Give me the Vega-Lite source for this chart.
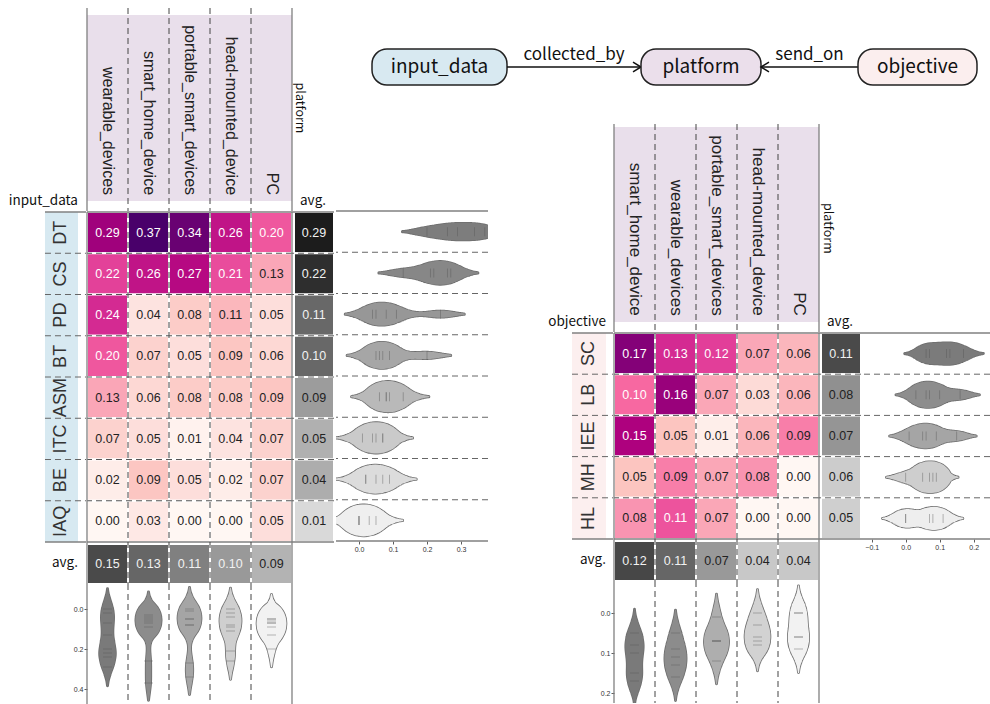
{
"$schema": "https://vega.github.io/schema/vega-lite/v6.json",
"padding": {"left": 5, "top": 7, "right": 0, "bottom": 0},
"background": "#ffffff",
"config": {"view": {"stroke": null}, "axis": {"labelFont": "Liberation Sans"}, "text": {"font": "Liberation Sans"}},
"datasets": {
"L": [
{"r":"DT","c":"wearable_devices","v":0.29},{"r":"DT","c":"smart_home_device","v":0.37},{"r":"DT","c":"portable_smart_devices","v":0.34},{"r":"DT","c":"head-mounted_device","v":0.26},{"r":"DT","c":"PC","v":0.20},
{"r":"CS","c":"wearable_devices","v":0.22},{"r":"CS","c":"smart_home_device","v":0.26},{"r":"CS","c":"portable_smart_devices","v":0.27},{"r":"CS","c":"head-mounted_device","v":0.21},{"r":"CS","c":"PC","v":0.13},
{"r":"PD","c":"wearable_devices","v":0.24},{"r":"PD","c":"smart_home_device","v":0.04},{"r":"PD","c":"portable_smart_devices","v":0.08},{"r":"PD","c":"head-mounted_device","v":0.11},{"r":"PD","c":"PC","v":0.05},
{"r":"BT","c":"wearable_devices","v":0.20},{"r":"BT","c":"smart_home_device","v":0.07},{"r":"BT","c":"portable_smart_devices","v":0.05},{"r":"BT","c":"head-mounted_device","v":0.09},{"r":"BT","c":"PC","v":0.06},
{"r":"ASM","c":"wearable_devices","v":0.13},{"r":"ASM","c":"smart_home_device","v":0.06},{"r":"ASM","c":"portable_smart_devices","v":0.08},{"r":"ASM","c":"head-mounted_device","v":0.08},{"r":"ASM","c":"PC","v":0.09},
{"r":"ITC","c":"wearable_devices","v":0.07},{"r":"ITC","c":"smart_home_device","v":0.05},{"r":"ITC","c":"portable_smart_devices","v":0.01},{"r":"ITC","c":"head-mounted_device","v":0.04},{"r":"ITC","c":"PC","v":0.07},
{"r":"BE","c":"wearable_devices","v":0.02},{"r":"BE","c":"smart_home_device","v":0.09},{"r":"BE","c":"portable_smart_devices","v":0.05},{"r":"BE","c":"head-mounted_device","v":0.02},{"r":"BE","c":"PC","v":0.07},
{"r":"IAQ","c":"wearable_devices","v":0.00},{"r":"IAQ","c":"smart_home_device","v":0.03},{"r":"IAQ","c":"portable_smart_devices","v":0.00},{"r":"IAQ","c":"head-mounted_device","v":0.00},{"r":"IAQ","c":"PC","v":0.05}
],
"Lr": [{"r":"DT","v":0.29},{"r":"CS","v":0.22},{"r":"PD","v":0.11},{"r":"BT","v":0.10},{"r":"ASM","v":0.09},{"r":"ITC","v":0.05},{"r":"BE","v":0.04},{"r":"IAQ","v":0.01}],
"Lc": [{"c":"wearable_devices","v":0.15},{"c":"smart_home_device","v":0.13},{"c":"portable_smart_devices","v":0.11},{"c":"head-mounted_device","v":0.10},{"c":"PC","v":0.09}],
"R": [
{"r":"SC","c":"smart_home_device","v":0.17},{"r":"SC","c":"wearable_devices","v":0.13},{"r":"SC","c":"portable_smart_devices","v":0.12},{"r":"SC","c":"head-mounted_device","v":0.07},{"r":"SC","c":"PC","v":0.06},
{"r":"LB","c":"smart_home_device","v":0.10},{"r":"LB","c":"wearable_devices","v":0.16},{"r":"LB","c":"portable_smart_devices","v":0.07},{"r":"LB","c":"head-mounted_device","v":0.03},{"r":"LB","c":"PC","v":0.06},
{"r":"IEE","c":"smart_home_device","v":0.15},{"r":"IEE","c":"wearable_devices","v":0.05},{"r":"IEE","c":"portable_smart_devices","v":0.01},{"r":"IEE","c":"head-mounted_device","v":0.06},{"r":"IEE","c":"PC","v":0.09},
{"r":"MH","c":"smart_home_device","v":0.05},{"r":"MH","c":"wearable_devices","v":0.09},{"r":"MH","c":"portable_smart_devices","v":0.07},{"r":"MH","c":"head-mounted_device","v":0.08},{"r":"MH","c":"PC","v":0.00},
{"r":"HL","c":"smart_home_device","v":0.08},{"r":"HL","c":"wearable_devices","v":0.11},{"r":"HL","c":"portable_smart_devices","v":0.07},{"r":"HL","c":"head-mounted_device","v":0.00},{"r":"HL","c":"PC","v":0.00}
],
"Rr": [{"r":"SC","v":0.11},{"r":"LB","v":0.08},{"r":"IEE","v":0.07},{"r":"MH","v":0.06},{"r":"HL","v":0.05}],
"Rc": [{"c":"smart_home_device","v":0.12},{"c":"wearable_devices","v":0.11},{"c":"portable_smart_devices","v":0.07},{"c":"head-mounted_device","v":0.04},{"c":"PC","v":0.04}]
},
"spacing": 0,
"hconcat": [
{
"columns": 3, "spacing": 0, "bounds": "flush", "align": "each",
"concat": [
{"width": 82, "height": 204, "data": {"values": [{"t": "input_data"}]},
 "mark": {"type": "text", "align": "right", "baseline": "middle", "font": "Noto Sans CJK KR", "fontSize": 13.5, "color": "#111111"},
 "encoding": {
  "x": {"datum": "lab", "type": "nominal", "bandPosition": 1, "scale": {"type": "band", "domain": ["lab"], "paddingInner": 0, "paddingOuter": 0.742, "align": 0.816}, "axis": null},
  "y": {"datum": "hdr", "type": "nominal", "bandPosition": 1, "scale": {"type": "band", "domain": ["hdr"], "paddingInner": 0, "paddingOuter": 0.04839, "align": 0.3889}, "axis": null},
  "text": {"field": "t"}}},
{"width": 205, "height": 204, "layer": [
 {"data": {"values": [{}]}, "mark": {"type": "rect", "color": "#e9dfeb"}, "encoding": {"y": {"datum": "hdr", "type": "nominal", "scale": {"type": "band", "domain": ["hdr"], "paddingInner": 0, "paddingOuter": 0.04839, "align": 0.3889}, "axis": null}}},
 {"data": {"name": "Lc"}, "mark": {"type": "text", "angle": 90, "align": "right", "baseline": "middle", "font": "Liberation Sans", "fontSize": 16, "color": "#222222"},
  "encoding": {"x": {"field": "c", "type": "nominal", "scale": {"type": "band", "domain": ["wearable_devices","smart_home_device","portable_smart_devices","head-mounted_device","PC"], "paddingInner": 0, "paddingOuter": 0}, "axis": {"orient": "bottom", "offset": -9, "labels": false, "domain": false, "grid": false, "ticks": true, "tickSize": 7, "tickColor": "#111111", "tickWidth": 1.5, "title": null}},
   "y": {"datum": "hdr", "type": "nominal", "bandPosition": 0.968, "scale": {"type": "band", "domain": ["hdr"], "paddingInner": 0, "paddingOuter": 0.04839, "align": 0.3889}, "axis": null},
   "text": {"field": "c"}}},
 {"data": {"name": "Lc"}, "transform": [{"filter": "datum.c !== 'wearable_devices'"}], "mark": {"type": "rule", "color": "#444444", "strokeWidth": 1, "strokeDash": [6, 4]}, "encoding": {"x": {"field": "c", "type": "nominal", "bandPosition": 0, "scale": {"type": "band", "domain": ["wearable_devices","smart_home_device","portable_smart_devices","head-mounted_device","PC"], "paddingInner": 0, "paddingOuter": 0}, "axis": null}}},
 {"data": {"values": [{}]}, "mark": {"type": "rule", "color": "#808080", "strokeWidth": 1.3}, "encoding": {"x": {"datum": "wearable_devices", "type": "nominal", "bandPosition": 0, "axis": null}}},
 {"data": {"values": [{}]}, "mark": {"type": "rule", "color": "#808080", "strokeWidth": 1.3}, "encoding": {"x": {"datum": "PC", "type": "nominal", "bandPosition": 1, "axis": null}}}
]},
{"width": 42, "height": 204, "data": {"values": [{}]}, "layer": [
 {"mark": {"type": "text", "angle": 90, "align": "center", "baseline": "middle", "font": "Noto Sans CJK KR", "fontSize": 12.5, "color": "#111111", "text": "platform"},
  "encoding": {"x": {"datum": "avg.", "type": "nominal", "bandPosition": 0.2, "scale": {"type": "band", "domain": ["avg."], "paddingInner": 0, "paddingOuter": 0}, "axis": null},
   "y": {"datum": "hdr", "type": "nominal", "bandPosition": 0.5, "scale": {"type": "band", "domain": ["hdr"], "paddingInner": 0, "paddingOuter": 0.04839, "align": 0.3889}, "axis": null}}},
 {"mark": {"type": "text", "align": "center", "baseline": "middle", "font": "Noto Sans CJK KR", "fontSize": 13.5, "color": "#111111", "text": "avg."},
  "encoding": {"x": {"datum": "avg.", "type": "nominal", "bandPosition": 0.5, "axis": null},
   "y": {"datum": "hdr", "type": "nominal", "bandPosition": 1, "axis": null}}}
]},
{"width": 82, "height": 330, "layer": [
 {"data": {"values": [{}]}, "mark": {"type": "rect", "color": "#d7e9f1"}, "encoding": {"x": {"datum": "lab", "type": "nominal", "scale": {"type": "band", "domain": ["lab"], "paddingInner": 0, "paddingOuter": 0.742, "align": 0.816}, "axis": null}}},
 {"data": {"name": "Lr"}, "mark": {"type": "text", "angle": -90, "align": "center", "baseline": "middle", "font": "Liberation Sans Narrow, Liberation Sans", "fontSize": 18, "color": "#333333"},
  "encoding": {"x": {"datum": "lab", "type": "nominal", "axis": null}, "y": {"field": "r", "type": "nominal", "scale": {"type": "band", "domain": ["DT","CS","PD","BT","ASM","ITC","BE","IAQ"], "paddingInner": 0, "paddingOuter": 0}, "axis": null}, "text": {"field": "r"}}},
 {"data": {"name": "Lr"}, "transform": [{"filter": "datum.r !== 'DT'"}], "mark": {"type": "rule", "color": "#666666", "strokeWidth": 1, "strokeDash": [6, 4]},
  "encoding": {"x": {"datum": "lab", "type": "nominal", "bandPosition": 0, "axis": null}, "x2": {"value": "width"}, "y": {"field": "r", "type": "nominal", "bandPosition": 0, "axis": null}}},
 {"data": {"values": [{}]}, "mark": {"type": "rule", "color": "#808080", "strokeWidth": 1.3},
  "encoding": {"x": {"datum": "lab", "type": "nominal", "bandPosition": 0, "axis": null}, "x2": {"value": "width"}, "y": {"datum": "DT", "type": "nominal", "bandPosition": 0, "axis": null}}},
 {"data": {"values": [{}]}, "mark": {"type": "rule", "color": "#808080", "strokeWidth": 1.3},
  "encoding": {"x": {"datum": "lab", "type": "nominal", "bandPosition": 0, "axis": null}, "x2": {"value": "width"}, "y": {"datum": "IAQ", "type": "nominal", "bandPosition": 1, "axis": null}}}
]},
{"width": 205, "height": 330, "layer": [
 {"data": {"name": "L"}, "mark": {"type": "rect", "stroke": "#ffffff", "strokeWidth": 2},
  "encoding": {"x": {"field": "c", "type": "nominal", "scale": {"type": "band", "domain": ["wearable_devices","smart_home_device","portable_smart_devices","head-mounted_device","PC"], "paddingInner": 0, "paddingOuter": 0}, "axis": null},
   "y": {"field": "r", "type": "nominal", "scale": {"type": "band", "domain": ["DT","CS","PD","BT","ASM","ITC","BE","IAQ"], "paddingInner": 0, "paddingOuter": 0}, "axis": null},
   "color": {"field": "v", "type": "quantitative", "scale": {"domain": [0, 0.04625, 0.0925, 0.13875, 0.185, 0.23125, 0.2775, 0.32375, 0.37], "range": ["#fff7f3","#fde0dd","#fcc5c0","#fa9fb5","#f768a1","#dd3497","#ae017e","#7a0177","#49006a"], "interpolate": "rgb"}, "legend": null}}},
 {"data": {"name": "L"}, "mark": {"type": "text", "font": "Liberation Sans", "fontSize": 12.5},
  "encoding": {"x": {"field": "c", "type": "nominal", "axis": null}, "y": {"field": "r", "type": "nominal", "axis": null},
   "text": {"field": "v", "type": "quantitative", "format": ".2f"},
   "color": {"condition": {"test": "datum.v >= 0.195", "value": "#ffffff"}, "value": "#222222"}}},
 {"data": {"name": "Lc"}, "transform": [{"filter": "datum.c !== 'wearable_devices'"}], "mark": {"type": "rule", "color": "#444444", "strokeWidth": 1, "strokeDash": [6, 4]}, "encoding": {"x": {"field": "c", "type": "nominal", "bandPosition": 0, "axis": null}}},
 {"data": {"name": "Lr"}, "transform": [{"filter": "datum.r !== 'DT'"}], "mark": {"type": "rule", "color": "#555555", "strokeWidth": 1, "strokeDash": [6, 4]}, "encoding": {"y": {"field": "r", "type": "nominal", "bandPosition": 0, "axis": null}}},
 {"data": {"values": [{}]}, "mark": {"type": "rule", "color": "#808080", "strokeWidth": 1.3}, "encoding": {"x": {"datum": "wearable_devices", "type": "nominal", "bandPosition": 0, "axis": null}}},
 {"data": {"values": [{}]}, "mark": {"type": "rule", "color": "#808080", "strokeWidth": 1.3}, "encoding": {"x": {"datum": "PC", "type": "nominal", "bandPosition": 1, "axis": null}}},
 {"data": {"values": [{}]}, "mark": {"type": "rule", "color": "#808080", "strokeWidth": 1.3}, "encoding": {"y": {"datum": "DT", "type": "nominal", "bandPosition": 0, "axis": null}}},
 {"data": {"values": [{}]}, "mark": {"type": "rule", "color": "#808080", "strokeWidth": 1.3}, "encoding": {"y": {"datum": "IAQ", "type": "nominal", "bandPosition": 1, "axis": null}}}
]},
{"width": 42, "height": 330, "layer": [
 {"data": {"name": "Lr"}, "mark": {"type": "rect", "stroke": "#ffffff", "strokeWidth": 2},
  "encoding": {"x": {"datum": "avg.", "type": "nominal", "scale": {"type": "band", "domain": ["avg."], "paddingInner": 0, "paddingOuter": 0.025, "align": 1}, "axis": null},
   "y": {"field": "r", "type": "nominal", "scale": {"type": "band", "domain": ["DT","CS","PD","BT","ASM","ITC","BE","IAQ"], "paddingInner": 0, "paddingOuter": 0}, "axis": null},
   "color": {"field": "v", "type": "quantitative", "scale": {"domain": [0.01, 0.04, 0.05, 0.09, 0.10, 0.11, 0.22, 0.29], "range": ["#d9d9d9","#adadad","#b0b0b0","#9c9c9c","#686868","#686868","#2e2e2e","#1c1c1c"]}, "legend": null}}},
 {"data": {"name": "Lr"}, "mark": {"type": "text", "font": "Liberation Sans", "fontSize": 12.5},
  "encoding": {"x": {"datum": "avg.", "type": "nominal", "axis": null}, "y": {"field": "r", "type": "nominal", "axis": null},
   "text": {"field": "v", "type": "quantitative", "format": ".2f"},
   "color": {"condition": {"test": "datum.v >= 0.095", "value": "#f2f2f2"}, "value": "#222222"}}},
 {"data": {"name": "Lr"}, "transform": [{"filter": "datum.r !== 'DT'"}], "mark": {"type": "rule", "color": "#666666", "strokeWidth": 1, "strokeDash": [6, 4]}, "encoding": {"y": {"field": "r", "type": "nominal", "bandPosition": 0, "axis": null}}},
 {"data": {"values": [{}]}, "mark": {"type": "rule", "color": "#808080", "strokeWidth": 1.3}, "encoding": {"y": {"datum": "DT", "type": "nominal", "bandPosition": 0, "axis": null}}},
 {"data": {"values": [{}]}, "mark": {"type": "rule", "color": "#808080", "strokeWidth": 1.3}, "encoding": {"y": {"datum": "IAQ", "type": "nominal", "bandPosition": 1, "axis": null}}}
]},
{"width": 82, "height": 42, "data": {"values": [{"t": "avg."}]},
 "mark": {"type": "text", "align": "right", "baseline": "middle", "font": "Noto Sans CJK KR", "fontSize": 13.5, "color": "#111111"},
 "encoding": {"x": {"datum": "lab", "type": "nominal", "bandPosition": 1, "scale": {"type": "band", "domain": ["lab"], "paddingInner": 0, "paddingOuter": 0.742, "align": 0.816}, "axis": null}, "text": {"field": "t"}}},
{"width": 205, "height": 42, "layer": [
 {"data": {"name": "Lc"}, "mark": {"type": "rect", "stroke": "#ffffff", "strokeWidth": 2},
  "encoding": {"x": {"field": "c", "type": "nominal", "scale": {"type": "band", "domain": ["wearable_devices","smart_home_device","portable_smart_devices","head-mounted_device","PC"], "paddingInner": 0, "paddingOuter": 0}, "axis": null},
   "y": {"datum": "avg.", "type": "nominal", "scale": {"type": "band", "domain": ["avg."], "paddingInner": 0, "paddingOuter": 0.025, "align": 1}, "axis": null},
   "color": {"field": "v", "type": "quantitative", "scale": {"domain": [0.09, 0.10, 0.11, 0.13, 0.15], "range": ["#b3b3b3","#999999","#808080","#666666","#4a4a4a"]}, "legend": null}}},
 {"data": {"name": "Lc"}, "mark": {"type": "text", "font": "Liberation Sans", "fontSize": 12.5},
  "encoding": {"x": {"field": "c", "type": "nominal", "axis": null}, "y": {"datum": "avg.", "type": "nominal", "axis": null},
   "text": {"field": "v", "type": "quantitative", "format": ".2f"},
   "color": {"condition": {"test": "datum.v >= 0.095", "value": "#f2f2f2"}, "value": "#222222"}}},
 {"data": {"name": "Lc"}, "transform": [{"filter": "datum.c !== 'wearable_devices'"}], "mark": {"type": "rule", "color": "#444444", "strokeWidth": 1, "strokeDash": [6, 4]}, "encoding": {"x": {"field": "c", "type": "nominal", "bandPosition": 0, "axis": null}}},
 {"data": {"values": [{}]}, "mark": {"type": "rule", "color": "#808080", "strokeWidth": 1.3}, "encoding": {"x": {"datum": "wearable_devices", "type": "nominal", "bandPosition": 0, "axis": null}}},
 {"data": {"values": [{}]}, "mark": {"type": "rule", "color": "#808080", "strokeWidth": 1.3}, "encoding": {"x": {"datum": "PC", "type": "nominal", "bandPosition": 1, "axis": null}}}
]},
{"width": 42, "height": 42, "data": {"values": [{}]}, "mark": {"type": "rect", "opacity": 0}, "encoding": {}},
{"width": 82, "height": 120, "data": {"values": [{}]}, "mark": {"type": "rect", "opacity": 0}, "encoding": {}},
{"width": 205, "height": 120, "data": {"name": "L"}, "resolve": {"scale": {"size": "independent"}}, "layer": [
 {"transform": [{"density": "v", "groupby": ["c"], "bandwidth": 0.055, "extent": [-0.25, 0.7], "steps": 300}, {"filter": "datum.density > 0.25"}],
  "mark": {"type": "trail", "color": "#6e6e6e", "clip": true},
  "encoding": {"x": {"field": "c", "type": "nominal", "scale": {"type": "band", "domain": ["wearable_devices","smart_home_device","portable_smart_devices","head-mounted_device","PC"], "paddingInner": 0, "paddingOuter": 0}, "axis": null},
   "y": {"field": "value", "type": "quantitative", "scale": {"domain": [-0.125, 0.475], "reverse": true, "nice": false, "zero": false},
    "axis": {"orient": "left", "values": [0, 0.2, 0.4], "format": ".1f", "labelFontSize": 7, "labelColor": "#333333", "tickSize": 3, "tickColor": "#333333", "tickWidth": 0.8, "domain": false, "grid": false, "title": null, "labelPadding": 1}},
   "size": {"field": "density", "type": "quantitative", "scale": {"range": [1.6, 31.6], "zero": true}, "legend": null},
   "detail": {"field": "c", "type": "nominal"},
   "order": {"field": "value", "type": "quantitative"}}},
 {"transform": [{"density": "v", "groupby": ["c"], "bandwidth": 0.055, "extent": [-0.25, 0.7], "steps": 300}, {"filter": "datum.density > 0.25"}],
  "mark": {"type": "trail", "clip": true},
  "encoding": {"x": {"field": "c", "type": "nominal", "axis": null},
   "y": {"field": "value", "type": "quantitative",
    "axis": {"orient": "left", "values": [0, 0.2, 0.4], "format": ".1f", "labelFontSize": 7, "labelColor": "#333333", "tickSize": 3, "tickColor": "#333333", "tickWidth": 0.8, "domain": false, "grid": false, "title": null, "labelPadding": 1}},
   "size": {"field": "density", "type": "quantitative", "scale": {"range": [0, 30], "zero": true}, "legend": null},
   "color": {"field": "c", "type": "nominal", "scale": {"domain": ["wearable_devices","smart_home_device","portable_smart_devices","head-mounted_device","PC"], "range": ["#7a7a7a","#8c8c8c","#a5a5a5","#cfcfcf","#f2f2f2"]}, "legend": null},
   "order": {"field": "value", "type": "quantitative"}}},
 {"mark": {"type": "tick", "orient": "horizontal", "size": 9, "thickness": 0.8, "color": "#555555", "opacity": 0.5},
  "encoding": {"x": {"field": "c", "type": "nominal", "axis": null},
   "y": {"field": "v", "type": "quantitative",
    "axis": {"orient": "left", "values": [0, 0.2, 0.4], "format": ".1f", "labelFontSize": 7, "labelColor": "#333333", "tickSize": 3, "tickColor": "#333333", "tickWidth": 0.8, "domain": false, "grid": false, "title": null, "labelPadding": 1}}}},
 {"data": {"name": "Lc"}, "transform": [{"filter": "datum.c !== 'wearable_devices'"}], "mark": {"type": "rule", "color": "#444444", "strokeWidth": 1, "strokeDash": [6, 4]}, "encoding": {"x": {"field": "c", "type": "nominal", "bandPosition": 0, "axis": null}}},
 {"data": {"values": [{}]}, "mark": {"type": "rule", "color": "#808080", "strokeWidth": 1.3}, "encoding": {"x": {"datum": "wearable_devices", "type": "nominal", "bandPosition": 0, "axis": null}}},
 {"data": {"values": [{}]}, "mark": {"type": "rule", "color": "#808080", "strokeWidth": 1.3}, "encoding": {"x": {"datum": "PC", "type": "nominal", "bandPosition": 1, "axis": null}}}
]},
{"width": 42, "height": 120, "data": {"values": [{}]}, "mark": {"type": "rect", "opacity": 0}, "encoding": {}}
]
},
{
"spacing": 37, "bounds": "full",
"vconcat": [
{"width": 10, "height": 1, "data": {"values": [{}]}, "mark": {"type": "rect", "opacity": 0}, "encoding": {}},
{"spacing": 0, "bounds": "flush", "hconcat": [
 {"width": 36, "height": 36, "data": {"values": [{}]}, "mark": {"type": "rect", "opacity": 0}, "encoding": {}},
 {"width": 135, "height": 36, "data": {"values": [{"t": "input_data"}]}, "layer": [
  {"mark": {"type": "rect", "color": "#d8e9f1", "stroke": "#222222", "strokeWidth": 1.5, "cornerRadius": 15},
   "encoding": {"x": {"datum": "n", "type": "nominal", "scale": {"type": "band", "paddingInner": 0, "paddingOuter": 0}, "axis": null}, "y": {"datum": "n", "type": "nominal", "scale": {"type": "band", "paddingInner": 0, "paddingOuter": 0}, "axis": null}}},
  {"mark": {"type": "text", "font": "Noto Sans CJK KR", "fontSize": 19, "color": "#111111"}, "encoding": {"text": {"field": "t"}}}
 ]},
 {"width": 134, "height": 36, "layer": [
  {"data": {"values": [{}]}, "mark": {"type": "rule", "color": "#111111", "strokeWidth": 1.5},
   "encoding": {"y": {"datum": "line", "type": "nominal", "bandPosition": 0, "scale": {"type": "band", "domain": ["label", "line"], "paddingInner": 0, "paddingOuter": 0}, "axis": null}}},
  {"data": {"values": [{}]}, "mark": {"type": "point", "shape": "M-2,-1.2L0,0L-2,1.2", "size": 64, "filled": false, "color": "#111111", "strokeWidth": 1.5, "opacity": 1},
   "encoding": {"x": {"datum": "e", "type": "nominal", "bandPosition": 1, "scale": {"type": "band", "paddingInner": 0, "paddingOuter": 0}, "axis": null}, "y": {"datum": "line", "type": "nominal", "bandPosition": 0, "axis": null}}},
  {"data": {"values": [{"t": "collected_by"}]}, "mark": {"type": "text", "font": "Noto Sans CJK KR", "fontSize": 17, "color": "#111111", "baseline": "middle"},
   "encoding": {"y": {"datum": "label", "type": "nominal", "bandPosition": 0.35, "axis": null}, "text": {"field": "t"}}}
 ]},
 {"width": 120, "height": 36, "data": {"values": [{"t": "platform"}]}, "layer": [
  {"mark": {"type": "rect", "color": "#ebdfeb", "stroke": "#222222", "strokeWidth": 1.5, "cornerRadius": 15},
   "encoding": {"x": {"datum": "n", "type": "nominal", "scale": {"type": "band", "paddingInner": 0, "paddingOuter": 0}, "axis": null}, "y": {"datum": "n", "type": "nominal", "scale": {"type": "band", "paddingInner": 0, "paddingOuter": 0}, "axis": null}}},
  {"mark": {"type": "text", "font": "Noto Sans CJK KR", "fontSize": 19, "color": "#111111"}, "encoding": {"text": {"field": "t"}}}
 ]},
 {"width": 97, "height": 36, "layer": [
  {"data": {"values": [{}]}, "mark": {"type": "rule", "color": "#111111", "strokeWidth": 1.5},
   "encoding": {"y": {"datum": "line", "type": "nominal", "bandPosition": 0, "scale": {"type": "band", "domain": ["label", "line"], "paddingInner": 0, "paddingOuter": 0}, "axis": null}}},
  {"data": {"values": [{}]}, "mark": {"type": "point", "shape": "M2,-1.2L0,0L2,1.2", "size": 64, "filled": false, "color": "#111111", "strokeWidth": 1.5, "opacity": 1},
   "encoding": {"x": {"datum": "e", "type": "nominal", "bandPosition": 0, "scale": {"type": "band", "paddingInner": 0, "paddingOuter": 0}, "axis": null}, "y": {"datum": "line", "type": "nominal", "bandPosition": 0, "axis": null}}},
  {"data": {"values": [{"t": "send_on"}]}, "mark": {"type": "text", "font": "Noto Sans CJK KR", "fontSize": 17, "color": "#111111", "baseline": "middle"},
   "encoding": {"y": {"datum": "label", "type": "nominal", "bandPosition": 0.35, "axis": null}, "text": {"field": "t"}}}
 ]},
 {"width": 119, "height": 36, "data": {"values": [{"t": "objective"}]}, "layer": [
  {"mark": {"type": "rect", "color": "#fbeeee", "stroke": "#222222", "strokeWidth": 1.5, "cornerRadius": 15},
   "encoding": {"x": {"datum": "n", "type": "nominal", "scale": {"type": "band", "paddingInner": 0, "paddingOuter": 0}, "axis": null}, "y": {"datum": "n", "type": "nominal", "scale": {"type": "band", "paddingInner": 0, "paddingOuter": 0}, "axis": null}}},
  {"mark": {"type": "text", "font": "Noto Sans CJK KR", "fontSize": 19, "color": "#111111"}, "encoding": {"text": {"field": "t"}}}
 ]}
]},
{"spacing": 51, "bounds": "full", "hconcat": [
 {"spacing": 0, "bounds": "flush", "vconcat": [
  {"width": 152, "height": 87, "data": {"values": [{}]}, "mark": {"type": "rect", "opacity": 0}, "encoding": {}},
  {"width": 152, "height": 330, "data": {"name": "L"}, "resolve": {"scale": {"size": "independent"}}, "layer": [
   {"transform": [{"density": "v", "groupby": ["r"], "bandwidth": 0.04, "extent": [-0.2, 0.6], "steps": 300}, {"filter": "datum.density > 0.4"}],
    "mark": {"type": "trail", "color": "#6e6e6e", "clip": true},
    "encoding": {"x": {"field": "value", "type": "quantitative", "scale": {"domain": [-0.0676, 0.3794], "nice": false, "zero": false},
      "axis": {"orient": "bottom", "values": [0, 0.1, 0.2, 0.3], "format": ".1f", "labelFontSize": 7, "labelColor": "#333333", "tickSize": 3, "tickColor": "#333333", "tickWidth": 0.8, "domain": false, "grid": false, "title": null, "labelPadding": 1}},
     "y": {"field": "r", "type": "nominal", "scale": {"type": "band", "domain": ["DT","CS","PD","BT","ASM","ITC","BE","IAQ"], "paddingInner": 0, "paddingOuter": 0}, "axis": null},
     "size": {"field": "density", "type": "quantitative", "scale": {"range": [1.6, 33.6], "zero": true}, "legend": null},
     "detail": {"field": "r", "type": "nominal"},
     "order": {"field": "value", "type": "quantitative"}}},
   {"transform": [{"density": "v", "groupby": ["r"], "bandwidth": 0.04, "extent": [-0.2, 0.6], "steps": 300}, {"filter": "datum.density > 0.4"}],
    "mark": {"type": "trail", "clip": true},
    "encoding": {"x": {"field": "value", "type": "quantitative",
      "axis": {"orient": "bottom", "values": [0, 0.1, 0.2, 0.3], "format": ".1f", "labelFontSize": 7, "labelColor": "#333333", "tickSize": 3, "tickColor": "#333333", "tickWidth": 0.8, "domain": false, "grid": false, "title": null, "labelPadding": 1}},
     "y": {"field": "r", "type": "nominal", "axis": null},
     "size": {"field": "density", "type": "quantitative", "scale": {"range": [0, 32], "zero": true}, "legend": null},
     "color": {"field": "r", "type": "nominal", "scale": {"domain": ["DT","CS","PD","BT","ASM","ITC","BE","IAQ"], "range": ["#7d7d7d","#878787","#979797","#a6a6a6","#b9b9b9","#cacaca","#dcdcdc","#efefef"]}, "legend": null},
     "order": {"field": "value", "type": "quantitative"}}},
   {"mark": {"type": "tick", "orient": "vertical", "size": 9, "thickness": 0.8, "color": "#555555", "opacity": 0.5},
    "encoding": {"x": {"field": "v", "type": "quantitative",
      "axis": {"orient": "bottom", "values": [0, 0.1, 0.2, 0.3], "format": ".1f", "labelFontSize": 7, "labelColor": "#333333", "tickSize": 3, "tickColor": "#333333", "tickWidth": 0.8, "domain": false, "grid": false, "title": null, "labelPadding": 1}},
     "y": {"field": "r", "type": "nominal", "axis": null}}},
   {"data": {"name": "Lr"}, "transform": [{"filter": "datum.r !== 'DT'"}], "mark": {"type": "rule", "color": "#666666", "strokeWidth": 1, "strokeDash": [6, 4]}, "encoding": {"y": {"field": "r", "type": "nominal", "bandPosition": 0, "axis": null}}},
   {"data": {"values": [{}]}, "mark": {"type": "rule", "color": "#808080", "strokeWidth": 1.3}, "encoding": {"y": {"datum": "DT", "type": "nominal", "bandPosition": 0, "axis": null}}},
   {"data": {"values": [{}]}, "mark": {"type": "rule", "color": "#808080", "strokeWidth": 1.3}, "encoding": {"y": {"datum": "IAQ", "type": "nominal", "bandPosition": 1, "axis": null}}}
  ]}
 ]},
 {"columns": 4, "spacing": 0, "bounds": "flush", "align": "each", "concat": [
  {"width": 74, "height": 209, "data": {"values": [{"t": "objective"}]},
   "mark": {"type": "text", "align": "right", "baseline": "middle", "font": "Noto Sans CJK KR", "fontSize": 13.5, "color": "#111111"},
   "encoding": {
    "x": {"datum": "lab", "type": "nominal", "bandPosition": 1, "scale": {"type": "band", "domain": ["lab"], "paddingInner": 0, "paddingOuter": 0.5882, "align": 0.8}, "axis": null},
    "y": {"datum": "hdr", "type": "nominal", "bandPosition": 1, "scale": {"type": "band", "domain": ["hdr"], "paddingInner": 0, "paddingOuter": 0.0359, "align": 0.2143}, "axis": null},
    "text": {"field": "t"}}},
  {"width": 205, "height": 209, "layer": [
   {"data": {"values": [{}]}, "mark": {"type": "rect", "color": "#e9dfeb"}, "encoding": {"y": {"datum": "hdr", "type": "nominal", "scale": {"type": "band", "domain": ["hdr"], "paddingInner": 0, "paddingOuter": 0.0359, "align": 0.2143}, "axis": null}}},
   {"data": {"name": "Rc"}, "mark": {"type": "text", "angle": 90, "align": "right", "baseline": "middle", "font": "Liberation Sans", "fontSize": 17, "color": "#222222"},
    "encoding": {"x": {"field": "c", "type": "nominal", "scale": {"type": "band", "domain": ["smart_home_device","wearable_devices","portable_smart_devices","head-mounted_device","PC"], "paddingInner": 0, "paddingOuter": 0}, "axis": {"orient": "bottom", "offset": -9, "labels": false, "domain": false, "grid": false, "ticks": true, "tickSize": 8, "tickColor": "#111111", "tickWidth": 1.5, "title": null}},
     "y": {"datum": "hdr", "type": "nominal", "bandPosition": 0.968, "axis": null},
     "text": {"field": "c"}}},
   {"data": {"name": "Rc"}, "transform": [{"filter": "datum.c !== 'smart_home_device'"}], "mark": {"type": "rule", "color": "#444444", "strokeWidth": 1, "strokeDash": [6, 4]}, "encoding": {"x": {"field": "c", "type": "nominal", "bandPosition": 0, "axis": null}}},
   {"data": {"values": [{}]}, "mark": {"type": "rule", "color": "#808080", "strokeWidth": 1.3}, "encoding": {"x": {"datum": "smart_home_device", "type": "nominal", "bandPosition": 0, "axis": null}}},
   {"data": {"values": [{}]}, "mark": {"type": "rule", "color": "#808080", "strokeWidth": 1.3}, "encoding": {"x": {"datum": "PC", "type": "nominal", "bandPosition": 1, "axis": null}}}
  ]},
  {"width": 42, "height": 209, "data": {"values": [{}]}, "layer": [
   {"mark": {"type": "text", "angle": 90, "align": "center", "baseline": "middle", "font": "Noto Sans CJK KR", "fontSize": 12.5, "color": "#111111", "text": "platform"},
    "encoding": {"x": {"datum": "avg.", "type": "nominal", "bandPosition": 0.21, "scale": {"type": "band", "domain": ["avg."], "paddingInner": 0, "paddingOuter": 0}, "axis": null},
     "y": {"datum": "hdr", "type": "nominal", "bandPosition": 0.52, "scale": {"type": "band", "domain": ["hdr"], "paddingInner": 0, "paddingOuter": 0.0359, "align": 0.2143}, "axis": null}}},
   {"mark": {"type": "text", "align": "center", "baseline": "middle", "font": "Noto Sans CJK KR", "fontSize": 13.5, "color": "#111111", "text": "avg."},
    "encoding": {"x": {"datum": "avg.", "type": "nominal", "bandPosition": 0.5, "axis": null},
     "y": {"datum": "hdr", "type": "nominal", "bandPosition": 1, "axis": null}}}
  ]},
  {"width": 129, "height": 209, "data": {"values": [{}]}, "mark": {"type": "rect", "opacity": 0}, "encoding": {}},
  {"width": 74, "height": 206, "layer": [
   {"data": {"values": [{}]}, "mark": {"type": "rect", "color": "#fcefef"}, "encoding": {"x": {"datum": "lab", "type": "nominal", "scale": {"type": "band", "domain": ["lab"], "paddingInner": 0, "paddingOuter": 0.5882, "align": 0.8}, "axis": null}}},
   {"data": {"name": "Rr"}, "mark": {"type": "text", "angle": -90, "align": "center", "baseline": "middle", "font": "Liberation Sans Narrow, Liberation Sans", "fontSize": 18, "color": "#333333"},
    "encoding": {"x": {"datum": "lab", "type": "nominal", "axis": null}, "y": {"field": "r", "type": "nominal", "scale": {"type": "band", "domain": ["SC","LB","IEE","MH","HL"], "paddingInner": 0, "paddingOuter": 0}, "axis": null}, "text": {"field": "r"}}},
   {"data": {"name": "Rr"}, "transform": [{"filter": "datum.r !== 'SC'"}], "mark": {"type": "rule", "color": "#666666", "strokeWidth": 1, "strokeDash": [6, 4]},
    "encoding": {"x": {"datum": "lab", "type": "nominal", "bandPosition": 0, "axis": null}, "x2": {"value": "width"}, "y": {"field": "r", "type": "nominal", "bandPosition": 0, "axis": null}}},
   {"data": {"values": [{}]}, "mark": {"type": "rule", "color": "#808080", "strokeWidth": 1.3},
    "encoding": {"x": {"datum": "lab", "type": "nominal", "bandPosition": 0, "axis": null}, "x2": {"value": "width"}, "y": {"datum": "SC", "type": "nominal", "bandPosition": 0, "axis": null}}},
   {"data": {"values": [{}]}, "mark": {"type": "rule", "color": "#808080", "strokeWidth": 1.3},
    "encoding": {"x": {"datum": "lab", "type": "nominal", "bandPosition": 0, "axis": null}, "x2": {"value": "width"}, "y": {"datum": "HL", "type": "nominal", "bandPosition": 1, "axis": null}}}
  ]},
  {"width": 205, "height": 206, "layer": [
   {"data": {"name": "R"}, "mark": {"type": "rect", "stroke": "#ffffff", "strokeWidth": 2},
    "encoding": {"x": {"field": "c", "type": "nominal", "scale": {"type": "band", "domain": ["smart_home_device","wearable_devices","portable_smart_devices","head-mounted_device","PC"], "paddingInner": 0, "paddingOuter": 0}, "axis": null},
     "y": {"field": "r", "type": "nominal", "scale": {"type": "band", "domain": ["SC","LB","IEE","MH","HL"], "paddingInner": 0, "paddingOuter": 0}, "axis": null},
     "color": {"field": "v", "type": "quantitative", "scale": {"domain": [0, 0.025, 0.05, 0.075, 0.1, 0.125, 0.15, 0.175, 0.2], "range": ["#fff7f3","#fde0dd","#fcc5c0","#fa9fb5","#f768a1","#dd3497","#ae017e","#7a0177","#49006a"], "interpolate": "rgb"}, "legend": null}}},
   {"data": {"name": "R"}, "mark": {"type": "text", "font": "Liberation Sans", "fontSize": 12.5},
    "encoding": {"x": {"field": "c", "type": "nominal", "axis": null}, "y": {"field": "r", "type": "nominal", "axis": null},
     "text": {"field": "v", "type": "quantitative", "format": ".2f"},
     "color": {"condition": {"test": "datum.v >= 0.095", "value": "#ffffff"}, "value": "#222222"}}},
   {"data": {"name": "Rc"}, "transform": [{"filter": "datum.c !== 'smart_home_device'"}], "mark": {"type": "rule", "color": "#444444", "strokeWidth": 1, "strokeDash": [6, 4]}, "encoding": {"x": {"field": "c", "type": "nominal", "bandPosition": 0, "axis": null}}},
   {"data": {"name": "Rr"}, "transform": [{"filter": "datum.r !== 'SC'"}], "mark": {"type": "rule", "color": "#555555", "strokeWidth": 1, "strokeDash": [6, 4]}, "encoding": {"y": {"field": "r", "type": "nominal", "bandPosition": 0, "axis": null}}},
   {"data": {"values": [{}]}, "mark": {"type": "rule", "color": "#808080", "strokeWidth": 1.3}, "encoding": {"x": {"datum": "smart_home_device", "type": "nominal", "bandPosition": 0, "axis": null}}},
   {"data": {"values": [{}]}, "mark": {"type": "rule", "color": "#808080", "strokeWidth": 1.3}, "encoding": {"x": {"datum": "PC", "type": "nominal", "bandPosition": 1, "axis": null}}},
   {"data": {"values": [{}]}, "mark": {"type": "rule", "color": "#808080", "strokeWidth": 1.3}, "encoding": {"y": {"datum": "SC", "type": "nominal", "bandPosition": 0, "axis": null}}},
   {"data": {"values": [{}]}, "mark": {"type": "rule", "color": "#808080", "strokeWidth": 1.3}, "encoding": {"y": {"datum": "HL", "type": "nominal", "bandPosition": 1, "axis": null}}}
  ]},
  {"width": 42, "height": 206, "layer": [
   {"data": {"name": "Rr"}, "mark": {"type": "rect", "stroke": "#ffffff", "strokeWidth": 2},
    "encoding": {"x": {"datum": "avg.", "type": "nominal", "scale": {"type": "band", "domain": ["avg."], "paddingInner": 0, "paddingOuter": 0.025, "align": 1}, "axis": null},
     "y": {"field": "r", "type": "nominal", "scale": {"type": "band", "domain": ["SC","LB","IEE","MH","HL"], "paddingInner": 0, "paddingOuter": 0}, "axis": null},
     "color": {"field": "v", "type": "quantitative", "scale": {"domain": [0.05, 0.06, 0.07, 0.08, 0.11], "range": ["#cfcfcf","#cccccc","#959595","#909090","#4a4a4a"]}, "legend": null}}},
   {"data": {"name": "Rr"}, "mark": {"type": "text", "font": "Liberation Sans", "fontSize": 12.5},
    "encoding": {"x": {"datum": "avg.", "type": "nominal", "axis": null}, "y": {"field": "r", "type": "nominal", "axis": null},
     "text": {"field": "v", "type": "quantitative", "format": ".2f"},
     "color": {"condition": {"test": "datum.v >= 0.095", "value": "#f2f2f2"}, "value": "#222222"}}},
   {"data": {"name": "Rr"}, "transform": [{"filter": "datum.r !== 'SC'"}], "mark": {"type": "rule", "color": "#666666", "strokeWidth": 1, "strokeDash": [6, 4]}, "encoding": {"y": {"field": "r", "type": "nominal", "bandPosition": 0, "axis": null}}},
   {"data": {"values": [{}]}, "mark": {"type": "rule", "color": "#808080", "strokeWidth": 1.3}, "encoding": {"y": {"datum": "SC", "type": "nominal", "bandPosition": 0, "axis": null}}},
   {"data": {"values": [{}]}, "mark": {"type": "rule", "color": "#808080", "strokeWidth": 1.3}, "encoding": {"y": {"datum": "HL", "type": "nominal", "bandPosition": 1, "axis": null}}}
  ]},
  {"width": 129, "height": 206, "data": {"name": "R"}, "resolve": {"scale": {"size": "independent"}}, "layer": [
   {"transform": [{"density": "v", "groupby": ["r"], "bandwidth": 0.03, "extent": [-0.25, 0.45], "steps": 300}, {"filter": "datum.density > 0.4"}],
    "mark": {"type": "trail", "color": "#6e6e6e", "clip": true},
    "encoding": {"x": {"field": "value", "type": "quantitative", "scale": {"domain": [-0.1315, 0.248], "nice": false, "zero": false},
      "axis": {"orient": "bottom", "values": [-0.1, 0, 0.1, 0.2], "format": ".1f", "labelFontSize": 7, "labelColor": "#333333", "tickSize": 3, "tickColor": "#333333", "tickWidth": 0.8, "domain": false, "grid": false, "title": null, "labelPadding": 1}},
     "y": {"field": "r", "type": "nominal", "scale": {"type": "band", "domain": ["SC","LB","IEE","MH","HL"], "paddingInner": 0, "paddingOuter": 0}, "axis": null},
     "size": {"field": "density", "type": "quantitative", "scale": {"range": [1.6, 33.6], "zero": true}, "legend": null},
     "detail": {"field": "r", "type": "nominal"},
     "order": {"field": "value", "type": "quantitative"}}},
   {"transform": [{"density": "v", "groupby": ["r"], "bandwidth": 0.03, "extent": [-0.25, 0.45], "steps": 300}, {"filter": "datum.density > 0.4"}],
    "mark": {"type": "trail", "clip": true},
    "encoding": {"x": {"field": "value", "type": "quantitative",
      "axis": {"orient": "bottom", "values": [-0.1, 0, 0.1, 0.2], "format": ".1f", "labelFontSize": 7, "labelColor": "#333333", "tickSize": 3, "tickColor": "#333333", "tickWidth": 0.8, "domain": false, "grid": false, "title": null, "labelPadding": 1}},
     "y": {"field": "r", "type": "nominal", "axis": null},
     "size": {"field": "density", "type": "quantitative", "scale": {"range": [0, 32], "zero": true}, "legend": null},
     "color": {"field": "r", "type": "nominal", "scale": {"domain": ["SC","LB","IEE","MH","HL"], "range": ["#7b7b7b","#8d8d8d","#a5a5a5","#cecece","#eeeeee"]}, "legend": null},
     "order": {"field": "value", "type": "quantitative"}}},
   {"mark": {"type": "tick", "orient": "vertical", "size": 9, "thickness": 0.8, "color": "#555555", "opacity": 0.5},
    "encoding": {"x": {"field": "v", "type": "quantitative",
      "axis": {"orient": "bottom", "values": [-0.1, 0, 0.1, 0.2], "format": ".1f", "labelFontSize": 7, "labelColor": "#333333", "tickSize": 3, "tickColor": "#333333", "tickWidth": 0.8, "domain": false, "grid": false, "title": null, "labelPadding": 1}},
     "y": {"field": "r", "type": "nominal", "axis": null}}},
   {"data": {"name": "Rr"}, "transform": [{"filter": "datum.r !== 'SC'"}], "mark": {"type": "rule", "color": "#666666", "strokeWidth": 1, "strokeDash": [6, 4]}, "encoding": {"y": {"field": "r", "type": "nominal", "bandPosition": 0, "axis": null}}},
   {"data": {"values": [{}]}, "mark": {"type": "rule", "color": "#808080", "strokeWidth": 1.3}, "encoding": {"y": {"datum": "SC", "type": "nominal", "bandPosition": 0, "axis": null}}},
   {"data": {"values": [{}]}, "mark": {"type": "rule", "color": "#808080", "strokeWidth": 1.3}, "encoding": {"y": {"datum": "HL", "type": "nominal", "bandPosition": 1, "axis": null}}}
  ]},
  {"width": 74, "height": 42, "data": {"values": [{"t": "avg."}]},
   "mark": {"type": "text", "align": "right", "baseline": "middle", "font": "Noto Sans CJK KR", "fontSize": 13.5, "color": "#111111"},
   "encoding": {"x": {"datum": "lab", "type": "nominal", "bandPosition": 1, "scale": {"type": "band", "domain": ["lab"], "paddingInner": 0, "paddingOuter": 0.5882, "align": 0.8}, "axis": null}, "text": {"field": "t"}}},
  {"width": 205, "height": 42, "layer": [
   {"data": {"name": "Rc"}, "mark": {"type": "rect", "stroke": "#ffffff", "strokeWidth": 2},
    "encoding": {"x": {"field": "c", "type": "nominal", "scale": {"type": "band", "domain": ["smart_home_device","wearable_devices","portable_smart_devices","head-mounted_device","PC"], "paddingInner": 0, "paddingOuter": 0}, "axis": null},
     "y": {"datum": "avg.", "type": "nominal", "scale": {"type": "band", "domain": ["avg."], "paddingInner": 0, "paddingOuter": 0.025, "align": 1}, "axis": null},
     "color": {"field": "v", "type": "quantitative", "scale": {"domain": [0.04, 0.07, 0.11, 0.12], "range": ["#c8c8c8","#999999","#666666","#474747"]}, "legend": null}}},
   {"data": {"name": "Rc"}, "mark": {"type": "text", "font": "Liberation Sans", "fontSize": 12.5},
    "encoding": {"x": {"field": "c", "type": "nominal", "axis": null}, "y": {"datum": "avg.", "type": "nominal", "axis": null},
     "text": {"field": "v", "type": "quantitative", "format": ".2f"},
     "color": {"condition": {"test": "datum.v >= 0.095", "value": "#f2f2f2"}, "value": "#222222"}}},
   {"data": {"name": "Rc"}, "transform": [{"filter": "datum.c !== 'smart_home_device'"}], "mark": {"type": "rule", "color": "#444444", "strokeWidth": 1, "strokeDash": [6, 4]}, "encoding": {"x": {"field": "c", "type": "nominal", "bandPosition": 0, "axis": null}}},
   {"data": {"values": [{}]}, "mark": {"type": "rule", "color": "#808080", "strokeWidth": 1.3}, "encoding": {"x": {"datum": "smart_home_device", "type": "nominal", "bandPosition": 0, "axis": null}}},
   {"data": {"values": [{}]}, "mark": {"type": "rule", "color": "#808080", "strokeWidth": 1.3}, "encoding": {"x": {"datum": "PC", "type": "nominal", "bandPosition": 1, "axis": null}}}
  ]},
  {"width": 42, "height": 42, "data": {"values": [{}]}, "mark": {"type": "rect", "opacity": 0}, "encoding": {}},
  {"width": 129, "height": 42, "data": {"values": [{}]}, "mark": {"type": "rect", "opacity": 0}, "encoding": {}},
  {"width": 74, "height": 122, "data": {"values": [{}]}, "mark": {"type": "rect", "opacity": 0}, "encoding": {}},
  {"width": 205, "height": 122, "data": {"name": "R"}, "resolve": {"scale": {"size": "independent"}}, "layer": [
   {"transform": [{"density": "v", "groupby": ["c"], "bandwidth": 0.03, "extent": [-0.25, 0.45], "steps": 300}, {"filter": "datum.density > 0.4"}],
    "mark": {"type": "trail", "color": "#6e6e6e", "clip": true},
    "encoding": {"x": {"field": "c", "type": "nominal", "scale": {"type": "band", "domain": ["smart_home_device","wearable_devices","portable_smart_devices","head-mounted_device","PC"], "paddingInner": 0, "paddingOuter": 0}, "axis": null},
     "y": {"field": "value", "type": "quantitative", "scale": {"domain": [-0.08, 0.225], "reverse": true, "nice": false, "zero": false},
      "axis": {"orient": "left", "values": [0, 0.1, 0.2], "format": ".1f", "labelFontSize": 7, "labelColor": "#333333", "tickSize": 3, "tickColor": "#333333", "tickWidth": 0.8, "domain": false, "grid": false, "title": null, "labelPadding": 1}},
     "size": {"field": "density", "type": "quantitative", "scale": {"range": [1.6, 27.6], "zero": true}, "legend": null},
     "detail": {"field": "c", "type": "nominal"},
     "order": {"field": "value", "type": "quantitative"}}},
   {"transform": [{"density": "v", "groupby": ["c"], "bandwidth": 0.03, "extent": [-0.25, 0.45], "steps": 300}, {"filter": "datum.density > 0.4"}],
    "mark": {"type": "trail", "clip": true},
    "encoding": {"x": {"field": "c", "type": "nominal", "axis": null},
     "y": {"field": "value", "type": "quantitative",
      "axis": {"orient": "left", "values": [0, 0.1, 0.2], "format": ".1f", "labelFontSize": 7, "labelColor": "#333333", "tickSize": 3, "tickColor": "#333333", "tickWidth": 0.8, "domain": false, "grid": false, "title": null, "labelPadding": 1}},
     "size": {"field": "density", "type": "quantitative", "scale": {"range": [0, 26], "zero": true}, "legend": null},
     "color": {"field": "c", "type": "nominal", "scale": {"domain": ["smart_home_device","wearable_devices","portable_smart_devices","head-mounted_device","PC"], "range": ["#7a7a7a","#8c8c8c","#aeaeae","#d2d2d2","#f2f2f2"]}, "legend": null},
     "order": {"field": "value", "type": "quantitative"}}},
   {"mark": {"type": "tick", "orient": "horizontal", "size": 9, "thickness": 0.8, "color": "#555555", "opacity": 0.5},
    "encoding": {"x": {"field": "c", "type": "nominal", "axis": null},
     "y": {"field": "v", "type": "quantitative",
      "axis": {"orient": "left", "values": [0, 0.1, 0.2], "format": ".1f", "labelFontSize": 7, "labelColor": "#333333", "tickSize": 3, "tickColor": "#333333", "tickWidth": 0.8, "domain": false, "grid": false, "title": null, "labelPadding": 1}}}},
   {"data": {"name": "Rc"}, "transform": [{"filter": "datum.c !== 'smart_home_device'"}], "mark": {"type": "rule", "color": "#444444", "strokeWidth": 1, "strokeDash": [6, 4]}, "encoding": {"x": {"field": "c", "type": "nominal", "bandPosition": 0, "axis": null}}},
   {"data": {"values": [{}]}, "mark": {"type": "rule", "color": "#808080", "strokeWidth": 1.3}, "encoding": {"x": {"datum": "smart_home_device", "type": "nominal", "bandPosition": 0, "axis": null}}},
   {"data": {"values": [{}]}, "mark": {"type": "rule", "color": "#808080", "strokeWidth": 1.3}, "encoding": {"x": {"datum": "PC", "type": "nominal", "bandPosition": 1, "axis": null}}}
  ]},
  {"width": 42, "height": 122, "data": {"values": [{}]}, "mark": {"type": "rect", "opacity": 0}, "encoding": {}},
  {"width": 129, "height": 122, "data": {"values": [{}]}, "mark": {"type": "rect", "opacity": 0}, "encoding": {}}
 ]}
]}
]
}
]
}
